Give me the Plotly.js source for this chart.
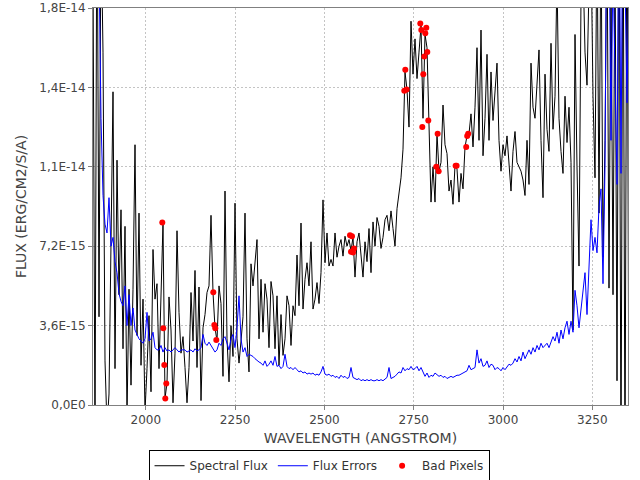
<!DOCTYPE html>
<html>
<head>
<meta charset="utf-8">
<script src="https://cdn.plot.ly/plotly-3.0.1.min.js"></script>
<style>html,body{margin:0;padding:0;background:#fff}#chart{width:640px;height:480px}</style>
</head>
<body>
<div id="chart"></div>
<script>
// Wavelength sampling of the spectrum (Angstrom)
const WAVE_START = 1852;
const WAVE_STEP = 5.6;
// Flux values are listed in units of 1e-15 erg/cm2/s/A
const FLUX_UNIT = 1e-15;

const spectralFlux = [
  20, -2, 25, 4, 22, 16, 2, -1, 0.5, 8.4,
  14.2, 1.65, 11.1, 5.0, 8.85, 2.55, 8.1, -0.5, 5.25, 0.9,
  5.25, 11.8, 3.15, 8.7, 1.8, 4.8, -0.3, 1.65, 4.05, 0.6,
  7.05, 4.8, 5.5, 1.65, 4.5, 8.25, 0.3, 1.0, 4.9, 3.4,
  0.1, 2.35, 7.9, 4.2, 2.35, 3.1, 1.7, 0.1, 1.7, 5.1,
  2.9, 6.1, 1.7, 5.35, 0.2, 3.5, 4.1, 5.1, 5.4, 8.6,
  5.1, 3.5, 2.9, 5.4, 4.6, 1.3, 9.7, 3.0, 1.05, 3.6,
  2.2, 9.15, 3.0, 1.9, 2.9, 4.0, 8.7, 3.0, 1.5, 6.4,
  5.4, 6.6, 7.5, 3.0, 5.7, 3.3, 5.5, 4.8, 2.6, 5.6,
  4.95, 2.55, 4.95, 1.8, 4.1, 2.25, 3.0, 4.95, 4.5, 2.7,
  4.5, 4.05, 6.8, 4.5, 8.25, 4.35, 5.7, 6.45, 5.4, 7.4,
  4.35, 4.8, 5.55, 4.6, 6.0, 9.3, 6.45, 7.8, 6.3, 6.6,
  6.3, 7.8, 6.7, 7.2, 7.5, 6.75, 7.65, 7.2, 7.5, 7.0,
  7.6, 5.8, 7.4, 7.8, 6.8, 5.8, 7.4, 6.5, 8.0, 6.0,
  8.3, 7.2, 8.5, 8.1, 7.1, 7.6, 8.4, 8.6, 7.9, 8.8,
  8.0, 7.2, 8.9, 9.6, 10.3, 11.6, 15.1, 14.3, 12.6, 17.4,
  15.0, 16.6, 14.8, 16.0, 17.2, 13.0, 16.8, 16.2, 12.9, 9.2,
  10.8, 9.2, 12.3, 10.6, 11.0, 13.6, 11.8, 11.4, 9.7, 10.2,
  9.1, 10.85, 10.7, 9.2, 10.5, 9.8, 11.7, 12.2, 12.3, 13.2,
  11.7, 13.5, 16.2, 12.0, 17.0, 11.3, 13.0, 15.9, 12.0, 15.1,
  12.9, 14.3, 15.5, 12.0, 10.6, 11.8, 11.3, 12.2, 11.0, 9.7,
  11.5, 12.4, 11.0, 10.8, 10.6, 10.2, 9.5, 12.0, 10.0, 15.5,
  13.5, 13.0, 14.4, 16.1, 12.0, 9.4, 15.0, 12.5, 11.5, 16.4,
  12.5, 14.0, 19.5, 13.0, 11.5, 10.5, 14.0, 11.9, 13.5, 11.0,
  3.4, 16.8, 10.8, 6.3, 18.5, 20, 16, 14.5, 19, 21,
  14, 10.3, 22, 8.7, 22, 6.7, 12, 22, 5.3, 20,
  5, 21, 1.1, 25, -3, 25, -3, 25, -3
];

const fluxErrors = [
  30, 25, 22, 20, 13, 9.5, 8.2, 7.8, 9.4, 7.2,
  7.6, 6.5, 6.0, 5.05, 4.7, 4.5, 5.4, 3.6, 5.0, 3.6,
  4.4, 3.4, 3.2, 3.0, 2.9, 2.8, 3.0, 4.2, 2.9, 3.0,
  3.3, 2.6, 2.5, 2.5, 2.7, 2.4, 2.6, 2.45, 2.5, 2.4,
  2.5, 2.6, 2.5, 2.4, 2.5, 2.5, 2.5, 2.4, 2.45, 2.5,
  2.4, 2.55, 2.45, 2.5, 2.6, 3.2, 2.8, 2.7, 2.85, 2.7,
  2.6, 2.4, 2.5, 2.8, 2.7, 3.0, 3.1, 2.8, 2.5, 3.0,
  3.2, 2.6, 3.5, 4.95, 3.0, 2.4, 2.6, 2.2, 2.3, 2.25,
  2.2, 2.1, 2.0, 1.95, 1.9, 1.8, 2.0, 1.75, 1.85, 2.0,
  1.8, 2.2, 1.75, 1.8, 1.65, 1.75, 2.3, 1.75, 1.65, 1.7,
  1.6, 1.7, 1.6, 1.5, 1.55, 1.45, 1.5, 1.4, 1.45, 1.4,
  1.45, 1.35, 1.4, 1.35, 1.5, 1.75, 1.4, 1.35, 1.4, 1.3,
  1.35, 1.25, 1.3, 1.2, 1.35, 1.25, 1.3, 1.2, 1.25, 1.7,
  1.25, 1.2, 1.15, 1.2, 1.1, 1.15, 1.1, 1.15, 1.1, 1.15,
  1.1, 1.1, 1.15, 1.1, 1.15, 1.1, 1.2, 1.25, 1.7, 1.2,
  1.25, 1.3, 1.4, 1.5, 1.45, 1.7, 1.55, 1.65, 1.6, 1.75,
  1.6, 1.65, 1.75, 1.55, 1.7, 1.5, 1.3, 1.45, 1.25, 1.35,
  1.3, 1.45, 1.35, 1.3, 1.35, 1.25, 1.3, 1.2, 1.25, 1.3,
  1.25, 1.3, 1.35, 1.35, 1.4, 1.45, 1.5, 1.55, 1.8, 1.6,
  1.65, 1.7, 2.5, 1.9, 2.1, 1.75, 1.8, 2.0, 1.7, 1.85,
  1.8, 1.6, 1.7, 1.65, 1.55, 1.7, 1.6, 1.75, 1.85, 1.8,
  1.9, 2.1, 1.95, 2.2, 2.0, 2.4, 2.1, 2.3, 2.5, 2.3,
  2.6, 2.4, 2.7, 2.5, 2.8, 2.6, 2.7, 2.8, 2.6, 2.9,
  3.1, 2.9, 3.3, 2.8, 3.4, 3.0, 3.5, 3.8, 3.2, 3.8,
  3.3, 5.2, 4.5, 3.5, 4.4, 5.2, 6.0, 4.1, 6.5, 8.4,
  7.0, 7.6, 6.9, 9.0, 9.8, 5.5, 10.8, 25, 22, 12,
  20, 14, 10, 25, 10.5, 25, 20, 13.7, 20
];

const badWave = [2046.0, 2048.8, 2051.6, 2054.4, 2057.2, 2188.8, 2191.6, 2194.4, 2197.2,
  2571.6, 2574.4, 2577.2, 2580.0, 2582.8, 2723.6, 2726.4, 2730.2, 2768.4, 2771.2, 2774.0,
  2776.8, 2779.6, 2782.4, 2785.2, 2788.0, 2790.8, 2813.2, 2817.0, 2819.8, 2867.3, 2870.1,
  2897.0, 2899.8, 2902.6];
const badFlux = [8.28, 3.48, 1.81, 0.30, 0.98, 5.11, 3.63, 3.48, 2.95,
  7.70, 6.95, 7.65, 6.92, 7.10, 14.25, 15.2, 14.3, 17.3, 17.0, 12.6,
  15.0, 15.8, 16.85, 17.1, 16.0, 12.9, 10.8, 12.3, 10.6, 10.85, 10.85,
  11.7, 12.2, 12.3];

const yTickVals = [0, 3.6, 7.2, 10.8, 14.4, 18];
const yTickText = ["0,0E0", "3,6E-15", "7,2E-15", "1,1E-14", "1,4E-14", "1,8E-14"];
const xTickVals = [2000, 2250, 2500, 2750, 3000, 3250];

const scale = a => a.map(v => v * FLUX_UNIT);

const traces = [
  {name: 'Spectral Flux', type: 'scatter', mode: 'lines', x0: WAVE_START, dx: WAVE_STEP,
   y: scale(spectralFlux), line: {color: '#000000', width: 1}},
  {name: 'Flux Errors', type: 'scatter', mode: 'lines', x0: WAVE_START, dx: WAVE_STEP,
   y: scale(fluxErrors), line: {color: '#0000ff', width: 1}},
  {name: 'Bad Pixels', type: 'scatter', mode: 'markers', x: badWave, y: scale(badFlux),
   marker: {color: '#ff0000', size: 6}, cliponaxis: true}
];

const axisCommon = {
  automargin: false,
  ticks: 'outside', ticklen: 4, tickcolor: '#808080',
  showline: true, linecolor: '#808080', linewidth: 1, mirror: true,
  showgrid: true, gridcolor: '#c4c4c4', griddash: '2px,2px', gridwidth: 1,
  zeroline: false, tickfont: {family: 'DejaVu Sans, sans-serif', size: 12, color: '#444444'}
};

const layout = {
  width: 640, height: 480,
  margin: {l: 93, r: 12, t: 8, b: 75, pad: 0},
  paper_bgcolor: '#ffffff', plot_bgcolor: '#ffffff',
  font: {family: 'DejaVu Sans, sans-serif', size: 12, color: '#444444'},
  showlegend: true,
  legend: {orientation: 'h', xref: 'container', yref: 'container',
    x: 0.4985, xanchor: 'center', y: 0.062, yanchor: 'top',
    bordercolor: '#000000', borderwidth: 1, bgcolor: '#ffffff',
    font: {family: 'DejaVu Sans, sans-serif', size: 12, color: '#333333'},
    itemwidth: 30, tracegroupgap: 0},
  xaxis: Object.assign({}, axisCommon, {
    range: [1852, 3350], tickmode: 'array', tickvals: xTickVals,
    title: {text: 'WAVELENGTH (ANGSTROM)', standoff: 6,
      font: {family: 'DejaVu Sans, sans-serif', size: 14, color: '#444444'}}
  }),
  yaxis: Object.assign({}, axisCommon, {
    range: [0, 18 * FLUX_UNIT], tickmode: 'array',
    tickvals: scale(yTickVals), ticktext: yTickText,
    title: {text: 'FLUX (ERG/CM2/S/A)', standoff: 9,
      font: {family: 'DejaVu Sans, sans-serif', size: 14, color: '#444444'}}
  })
};

Plotly.newPlot('chart', traces, layout, {staticPlot: true, displayModeBar: false});
</script>
</body>
</html>
